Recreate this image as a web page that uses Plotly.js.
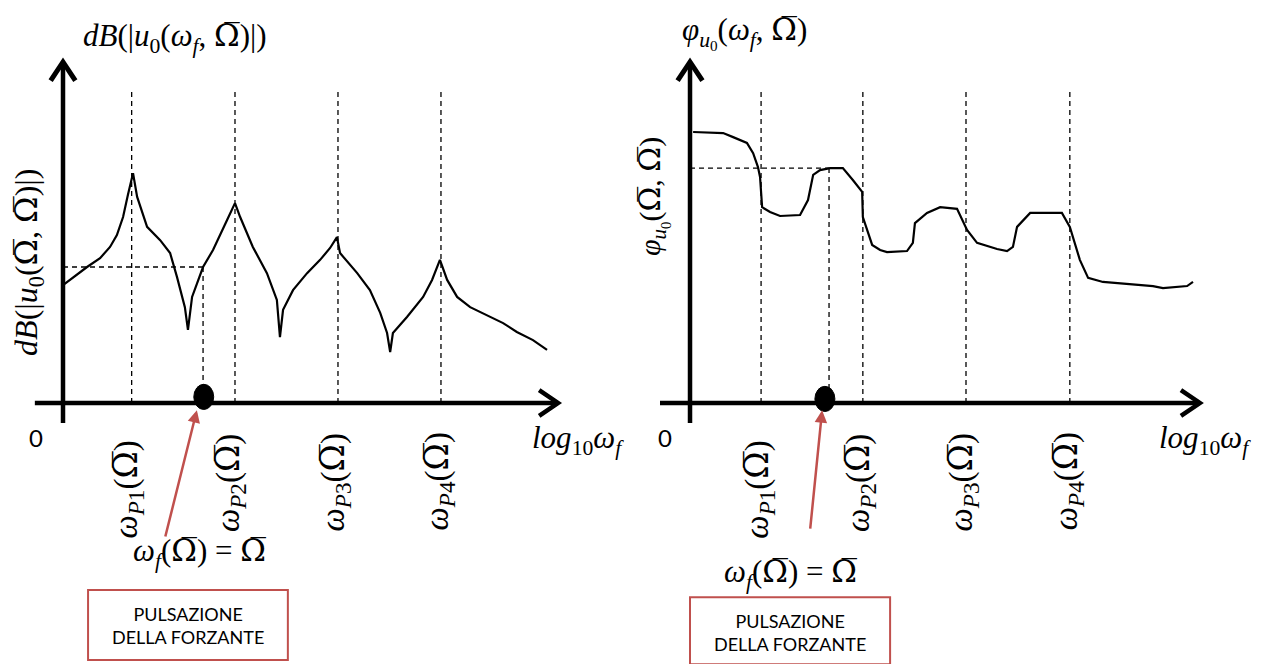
<!DOCTYPE html>
<html><head><meta charset="utf-8">
<script src="https://cdn.plot.ly/plotly-3.0.1.min.js"></script>
<style>html,body{margin:0;padding:0;background:#fff}</style>
</head><body><div id="chart" style="width:1265px;height:664px"></div>
<script>
// ---- data (arbitrary log-frequency / level units) ----
const magX = [0,0.35,0.70,1.08,1.37,1.57,1.75,1.89,2.04,2.16,2.45,2.83,3.12,3.32,3.55,3.64,3.76,4.08,4.37,4.78,5.01,5.16,5.53,5.94,6.23,6.32,6.41,6.70,7.11,7.49,7.78,7.98,8.07,8.57,8.94,9.24,9.44,9.53,9.61,10.02,10.49,10.75,10.98,11.19,11.48,11.86,12.44,12.82,13.22,13.69,14.10];
const magY = [3.47,3.74,4.00,4.26,4.59,4.94,5.47,6.12,6.76,6.06,5.18,4.79,4.41,3.71,2.82,2.15,3.12,4.00,4.50,5.38,5.88,5.47,4.59,3.82,3.03,1.94,2.74,3.32,3.82,4.21,4.56,4.88,4.41,3.82,3.32,2.65,2.06,1.50,2.06,2.53,3.12,3.62,4.21,3.62,3.12,2.82,2.53,2.35,2.09,1.85,1.56];
const phaseX = [0.09,0.96,1.25,1.65,1.83,1.97,2.03,2.09,2.32,2.61,3.19,3.42,3.57,3.77,4.06,4.43,4.72,4.99,5.01,5.28,5.51,5.71,6.29,6.46,6.52,6.87,7.25,7.74,8.03,8.32,8.90,9.19,9.36,9.48,9.86,10.78,11.01,11.30,11.54,11.97,13.42,13.71,14.41,14.58];
const phaseY = [7.97,7.94,7.82,7.65,7.35,6.94,6.65,5.76,5.62,5.50,5.53,5.97,6.71,6.85,6.91,6.91,6.56,6.21,5.47,4.65,4.50,4.44,4.47,4.71,5.29,5.59,5.76,5.71,5.09,4.71,4.53,4.47,4.59,5.18,5.59,5.59,5.18,4.21,3.68,3.56,3.44,3.38,3.44,3.56];
const polesMag = [2.0,5.01,8.01,11.01];
const polesPhase = [2.06,5.01,8.0,11.01];
const OM = "<span style='font-family:DejaVu Serif'>Ω̅</span>";
const poleLabels = [1,2,3,4].map(k => `<i>ω</i><sub><i>P</i>${k}</sub>(${OM})`);
const forcingX = [4.08,4.03];
const refLevel = [4.0,6.91];
const titles = [`<i>dB</i>(|<i>u</i><sub>0</sub>(<i>ω<sub>f</sub></i>, ${OM})|)`, `<i>φ</i><sub><i>u</i><sub>0</sub></sub>(<i>ω<sub>f</sub></i>, ${OM})`];
const yLabels = [`<i>dB</i>(|<i>u</i><sub>0</sub>(${OM}, ${OM})|)`, `<i>φ</i><sub><i>u</i><sub>0</sub></sub>(${OM}, ${OM})`];
const xLabel = '<i>log</i><sub>10</sub><i>ω<sub>f</sub></i>';
const forcingLabel = `<i>ω<sub>f</sub></i>(${OM}) = ${OM}`;
const boxText = 'PULSAZIONE<br>DELLA FORZANTE';

// ---- layout helpers ----
const RED = '#c0504d';
const MATH = 'Liberation Serif, DejaVu Serif, serif';
const SANS = 'Lato, Open Sans, sans-serif';
const panels = [
  {xr:'x', yr:'y', xStart:-0.82, xTip:14.42, yTip:10.03, yBot:-0.59, poles:polesMag, poleOff:[-0.12,-0.14,-0.1,-0.08], poleLblY:[-2.56,-2.35,-2.35,-2.3],
   dot:[4.1,0.18], arrow:{x:3.9,y:-0.21,ax:2.97,ay:-3.97}, fLbl:[3.99,-4.41], box:[0.73,6.55,-5.50,-7.56], boxLbl:[3.64,-6.53],
   title:[3.26,10.74], yLbl:[-1.02,4.15], zero:[-0.8,-1.0], xLbl:[15.0,-1.09]},
  {xr:'x2', yr:'y2', xStart:-0.87, xTip:14.78, yTip:10.03, yBot:-0.59, poles:polesPhase, poleOff:[-0.1,-0.08,-0.1,-0.08], poleLblY:[-2.56,-2.35,-2.35,-2.3],
   dot:[3.91,0.12], arrow:{x:3.83,y:-0.21,ax:3.48,ay:-3.74}, fLbl:[2.9,-5.0], box:[0.0,5.80,-5.71,-7.68], boxLbl:[2.9,-6.76],
   title:[1.59,10.91], yLbl:[-1.07,6.06], zero:[-0.72,-1.0], xLbl:[14.93,-1.09]}
];

const shapes = [];
const annotations = [];
panels.forEach((p,i) => {
  const L = (x0,y0,x1,y1,extra) => Object.assign({type:'line', xref:p.xr, yref:p.yr, x0, y0, x1, y1, line:{color:'black', width:1.3, dash:'5px,4px'}}, extra||{});
  p.poles.forEach(px => shapes.push(L(px, 9.15, px, 0)));
  shapes.push(L(0, refLevel[i], forcingX[i], refLevel[i]));
  shapes.push(L(forcingX[i], refLevel[i], forcingX[i], 0));
  shapes.push(L(p.xStart, 0, p.xTip, 0, {line:{color:'black', width:4.5}}));
  shapes.push(L(0, p.yBot, 0, p.yTip, {line:{color:'black', width:4.5}}));
  shapes.push({type:'path', xref:p.xr, yref:p.yr, path:`M ${p.xTip-0.55} 0.38 L ${p.xTip} 0 L ${p.xTip-0.55} -0.38`, line:{color:'black', width:4.5}});
  shapes.push({type:'path', xref:p.xr, yref:p.yr, path:`M -0.36 ${p.yTip-0.55} L 0 ${p.yTip} L 0.36 ${p.yTip-0.55}`, line:{color:'black', width:5}});
  shapes.push({type:'circle', xref:p.xr, yref:p.yr, x0:p.dot[0]-0.29, x1:p.dot[0]+0.29, y0:p.dot[1]-0.37, y1:p.dot[1]+0.37, fillcolor:'black', line:{color:'black', width:1}});
  shapes.push({type:'rect', xref:p.xr, yref:p.yr, x0:p.box[0], x1:p.box[1], y0:p.box[2], y1:p.box[3], line:{color:RED, width:2}, fillcolor:'rgba(0,0,0,0)'});

  const A = (x,y,text,font,extra) => Object.assign({xref:p.xr, yref:p.yr, x, y, text, showarrow:false, xanchor:'center', yanchor:'middle', font:Object.assign({family:MATH, size:26, color:'black'}, font||{})}, extra||{});
  annotations.push(A(p.title[0], p.title[1], titles[i], {size:31}));
  annotations.push(A(p.yLbl[0], p.yLbl[1], yLabels[i], {size: i === 0 ? 32 : 30}, {textangle:-90}));
  annotations.push(A(p.zero[0], p.zero[1], '0', {family:SANS, size:24}));
  annotations.push(A(p.xLbl[0], p.xLbl[1], xLabel, {size:31}));
  p.poles.forEach((px,k) => annotations.push(A(px + p.poleOff[k], p.poleLblY[k], poleLabels[k], {size:33}, {textangle:-90})));
  annotations.push(A(p.fLbl[0], p.fLbl[1], forcingLabel, {size:31}));
  annotations.push(A(p.boxLbl[0], p.boxLbl[1], boxText, {family:SANS, size:18}));
  annotations.push({xref:p.xr, yref:p.yr, axref:p.xr, ayref:p.yr, x:p.arrow.x, y:p.arrow.y, ax:p.arrow.ax, ay:p.arrow.ay, text:'', showarrow:true, arrowhead:2, arrowsize:1, arrowwidth:2.5, arrowcolor:RED});
});

const traces = [
  {x:magX, y:magY, xaxis:'x', yaxis:'y', type:'scatter', mode:'lines', line:{color:'black', width:2.2}, hoverinfo:'skip'},
  {x:phaseX, y:phaseY, xaxis:'x2', yaxis:'y2', type:'scatter', mode:'lines', line:{color:'black', width:2.2}, hoverinfo:'skip'}
];
const ax = (domain, range) => ({domain, range, visible:false, showgrid:false, zeroline:false, fixedrange:true});
const layout = {
  width:1265, height:664, margin:{l:0,r:0,t:0,b:0}, showlegend:false,
  paper_bgcolor:'white', plot_bgcolor:'white',
  xaxis: Object.assign(ax([0,0.5],[-1.835,16.589]), {anchor:'y'}),
  yaxis: Object.assign(ax([0,1],[-7.676,11.853]), {anchor:'x'}),
  xaxis2: Object.assign(ax([0.5,1],[-1.667,16.667]), {anchor:'y2'}),
  yaxis2: Object.assign(ax([0,1],[-7.676,11.853]), {anchor:'x2'}),
  shapes, annotations
};
Plotly.newPlot('chart', traces, layout, {displayModeBar:false, staticPlot:true});
</script></body></html>
